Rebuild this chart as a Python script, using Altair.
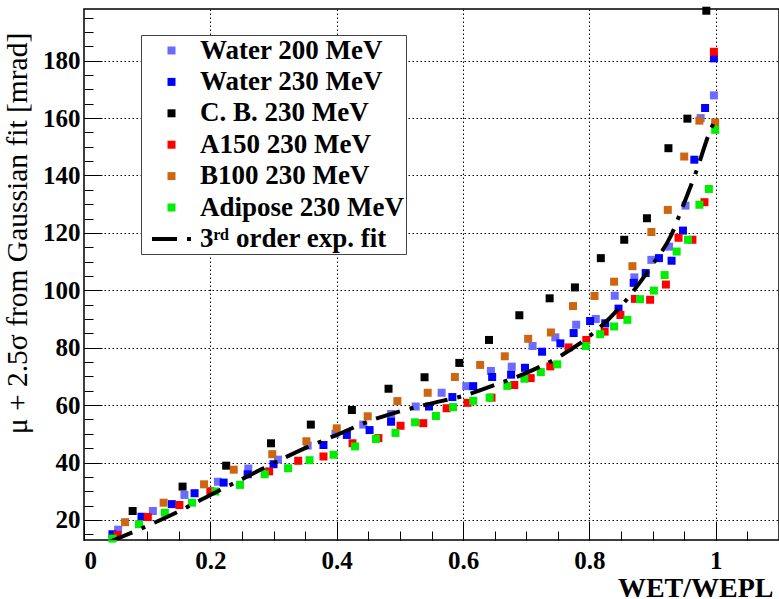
import altair as alt
import pandas as pd

# ---------------- data ----------------
series_names = ["Water 200 MeV", "Water 230 MeV", "C. B. 230 MeV",
                "A150 230 MeV", "B100 230 MeV", "Adipose 230 MeV"]
fit_name = "3ʳᵈ order exp. fit"
series_colors = ["#6b6bff", "#0000ff", "#000000", "#ff0000", "#cc6611", "#00ee00"]

w200_x = [0.054, 0.109, 0.159, 0.212, 0.260, 0.307, 0.354, 0.398, 0.442, 0.486, 0.525, 0.566, 0.605,
          0.644, 0.677, 0.710, 0.746, 0.779, 0.810, 0.840, 0.871, 0.898, 0.926, 0.952, 0.976, 0.997]
w200_y = [16.6, 23.1, 28.7, 33.3, 37.9, 41.0, 45.9, 50.0, 53.2, 56.9, 59.5, 64.3, 66.6,
          71.9, 73.4, 80.6, 83.6, 88.0, 90.0, 98.1, 104.5, 110.6, 115.2, 129.5, 160.0, 167.9]

w230_x = [0.045, 0.091, 0.139, 0.175, 0.221, 0.259, 0.300, 0.379, 0.416, 0.452, 0.486, 0.546, 0.583,
          0.616, 0.646, 0.676, 0.698, 0.725, 0.754, 0.775, 0.801, 0.825, 0.846, 0.870, 0.889, 0.910,
          0.930, 0.948, 0.966, 0.983, 0.997]
w230_y = [15.0, 21.1, 25.5, 29.3, 33.0, 35.9, 39.4, 46.1, 49.6, 51.3, 54.2, 59.5, 62.8,
          66.6, 69.8, 70.6, 73.0, 78.6, 81.5, 85.1, 89.3, 88.5, 93.6, 102.6, 106.0, 111.2,
          110.3, 120.8, 145.5, 163.5, 180.8]

cb_x = [0.077, 0.156, 0.225, 0.296, 0.359, 0.424, 0.482, 0.539, 0.594, 0.641, 0.689, 0.737,
        0.777, 0.818, 0.855, 0.891, 0.925, 0.955, 0.985]
cb_y = [23.1, 31.6, 38.9, 46.7, 53.2, 58.3, 65.7, 69.7, 74.7, 82.7, 91.3, 97.2,
        101.0, 111.2, 117.6, 125.1, 149.5, 159.8, 197.4]

a150_x = [0.053, 0.101, 0.151, 0.200, 0.293, 0.339, 0.379, 0.425, 0.466, 0.501, 0.537, 0.574,
          0.607, 0.645, 0.681, 0.707, 0.738, 0.767, 0.795, 0.824, 0.849, 0.872, 0.896, 0.921,
          0.941, 0.963, 0.982, 0.997]
a150_y = [14.7, 21.0, 25.2, 30.0, 36.9, 40.6, 42.1, 46.7, 48.5, 52.8, 53.7, 58.9,
          60.8, 62.6, 67.0, 69.4, 73.5, 80.1, 82.7, 85.6, 91.4, 97.0, 96.7, 102.0,
          118.3, 117.6, 130.7, 183.1]

b100_x = [0.065, 0.126, 0.190, 0.237, 0.298, 0.352, 0.400, 0.449, 0.496, 0.544, 0.587, 0.627,
          0.666, 0.703, 0.739, 0.774, 0.808, 0.839, 0.868, 0.898, 0.924, 0.950, 0.974, 0.999]
b100_y = [19.2, 26.0, 32.4, 37.5, 42.9, 47.4, 51.9, 56.1, 61.4, 64.3, 69.8, 74.0,
          77.0, 83.1, 85.3, 94.5, 98.0, 103.0, 108.4, 120.3, 128.0, 146.6, 159.1, 158.5]

adi_x = [0.045, 0.087, 0.128, 0.171, 0.208, 0.247, 0.286, 0.323, 0.357, 0.395, 0.429, 0.462,
         0.493, 0.524, 0.557, 0.584, 0.616, 0.642, 0.670, 0.697, 0.723, 0.749, 0.794, 0.817,
         0.839, 0.860, 0.880, 0.902, 0.919, 0.938, 0.956, 0.974, 0.989, 0.999]
adi_y = [13.5, 18.5, 22.5, 26.0, 29.9, 32.2, 35.9, 38.0, 40.8, 42.7, 45.6, 48.2,
         50.3, 54.0, 56.2, 59.3, 61.5, 62.6, 66.7, 69.2, 71.5, 74.2, 80.6, 84.7,
         87.4, 89.7, 96.9, 99.9, 105.3, 113.5, 117.6, 129.8, 135.3, 155.9]

fit_x = [0.040, 0.100, 0.150, 0.200, 0.250, 0.300, 0.350, 0.400, 0.450, 0.500, 0.550, 0.600,
         0.650, 0.700, 0.750, 0.800, 0.850, 0.900, 0.930, 0.950, 0.970, 0.990, 1.000]
fit_y = [12.3, 17.9, 23.0, 28.7, 34.2, 39.8, 45.0, 49.6, 54.3, 57.8, 60.6, 63.2,
         67.0, 71.2, 76.6, 84.0, 94.5, 109.0, 119.5, 130.5, 142.0, 155.0, 160.0]

x_major = [0, 0.2, 0.4, 0.6, 0.8, 1.0]
x_grid = [0.2, 0.4, 0.6, 0.8, 1.0]
x_minor = [round(i * 0.05, 2) for i in range(0, 23)]
y_major = [20, 40, 60, 80, 100, 120, 140, 160, 180]
y_minor = list(range(15, 200, 5))

# ---------------- tables ----------------
all_x = [w200_x, w230_x, cb_x, a150_x, b100_x, adi_x]
all_y = [w200_y, w230_y, cb_y, a150_y, b100_y, adi_y]
rows = []
for name, xs, ys in zip(series_names, all_x, all_y):
    for xv, yv in zip(xs, ys):
        rows.append({"series": name, "x": xv, "y": yv})
pts = pd.DataFrame(rows)
fit = pd.DataFrame({"x": fit_x, "y": fit_y})

FONT = "Liberation Serif"
W, H = 695, 531
xscale = alt.Scale(domain=[0, 1.1], nice=False, zero=False)
yscale = alt.Scale(domain=[13, 198], nice=False, zero=False)

legend_names = series_names + [fit_name]
legend_colors = series_colors + ["#000000"]
fit_symbol = "M-4.88,-0.5H1.38V0.5H-4.88Z M3.88,-0.5H4.88V0.5H3.88Z"
legend_shapes = ["square"] * 6 + [fit_symbol]

leg = alt.Legend(
    title=None, orient="none", legendX=57, legendY=26, direction="vertical",
    strokeColor="#444444", fillColor="white", padding=2,
    labelFont=FONT, labelFontSize=27, labelFontWeight="bold", labelColor="black",
    labelLimit=500, labelOffset=15, symbolOffset=15, symbolSize=64,
    symbolStrokeWidth=0, rowPadding=3.4,
)

# grid-only layer (behind)
grid_layer = alt.Chart(pts).mark_point(opacity=0).encode(
    x=alt.X("x:Q", scale=xscale, axis=alt.Axis(
        orient="bottom", values=x_grid, grid=True, ticks=False, labels=False, domain=False,
        title=None, gridColor="black", gridDash=[1.5, 2.5], gridWidth=1, gridOpacity=1)),
    y=alt.Y("y:Q", scale=yscale, axis=alt.Axis(
        orient="left", values=y_major, grid=True, ticks=False, labels=False, domain=False,
        title=None, gridColor="black", gridDash=[1.5, 2.5], gridWidth=1, gridOpacity=1)),
)

# data points with labels + major (inward) ticks
points = alt.Chart(pts).mark_point(filled=True, opacity=1, size=64).encode(
    x=alt.X("x:Q", scale=xscale, axis=alt.Axis(
        orient="bottom", values=x_major, format=".1~f", grid=False, domain=False,
        offset=-18, tickSize=18, tickColor="black", tickWidth=1,
        labelFont=FONT, labelFontSize=25, labelFontWeight="bold", labelColor="black",
        labelPadding=8, labelOverlap=False,
        title="WET/WEPL", titleFont=FONT, titleFontSize=28, titleFontWeight="bold",
        titleColor="black", titleX=689, titleY=74, titleAlign="right",
        titleBaseline="alphabetic")),
    y=alt.Y("y:Q", scale=yscale, axis=alt.Axis(
        orient="left", values=y_major, format="d", grid=False, domain=False,
        offset=-18, tickSize=18, tickColor="black", tickWidth=1,
        labelFont=FONT, labelFontSize=25, labelFontWeight="bold", labelColor="black",
        labelPadding=4, labelOverlap=False,
        title="μ + 2.5σ from Gaussian fit [mrad]", titleFont=FONT, titleFontSize=29.5,
        titleFontWeight="normal", titleColor="black", titleX=-76, titleY=224,
        titleAngle=270, titleAlign="center", titleBaseline="alphabetic")),
    color=alt.Color("series:N", scale=alt.Scale(domain=legend_names, range=legend_colors),
                    legend=leg),
    shape=alt.Shape("series:N", scale=alt.Scale(domain=legend_names, range=legend_shapes),
                    legend=leg),
    order=alt.Order("idx:Q"),
).transform_window(idx="row_number()")

# fit line with minor (inward) ticks
fit_line = alt.Chart(fit).mark_line(
    color="black", strokeWidth=4, strokeDash=[25, 10, 4, 10], interpolate="monotone", clip=True
).encode(
    x=alt.X("x:Q", scale=xscale, axis=alt.Axis(
        orient="bottom", values=x_minor, grid=False, labels=False, domain=False, title=None,
        offset=-9, tickSize=9, tickColor="black", tickWidth=1)),
    y=alt.Y("y:Q", scale=yscale, axis=alt.Axis(
        orient="left", values=y_minor, grid=False, labels=False, domain=False, title=None,
        offset=-9, tickSize=9, tickColor="black", tickWidth=1)),
)

chart = alt.layer(grid_layer, points, fit_line).resolve_axis(
    x="independent", y="independent"
).properties(
    width=W, height=H,
    padding={"left": 84, "top": 9, "right": 0, "bottom": 59},
    autosize=alt.AutoSizeParams(type="none"),
    background="white",
).configure(font=FONT).configure_view(stroke="black", strokeWidth=1.5)

chart.save("out.html", embed_options={"renderer": "svg", "actions": False})
